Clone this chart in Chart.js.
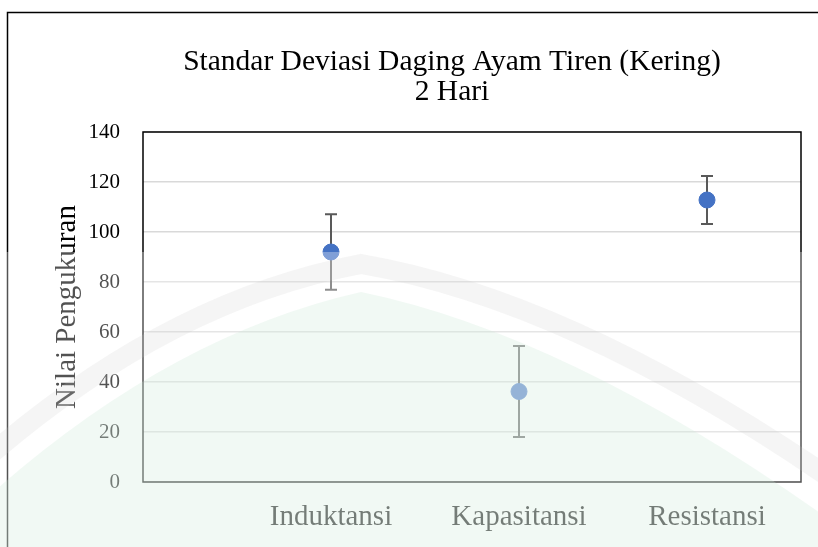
<!DOCTYPE html>
<html lang="en">
<head>
    <meta charset="UTF-8">
    <title>Standar Deviasi</title>
    <script src="https://cdn.jsdelivr.net/npm/chart.js@4.4.0/dist/chart.umd.min.js"></script>
    <style>
      html, body { margin: 0; padding: 0; background: #fff; }
      #wrap { width: 818px; height: 547px; }
    </style>
</head>
<body>
  <div id="wrap"><canvas id="sd"></canvas></div>
  <script>
    // data
    const categories = ["Induktansi", "Kapasitansi", "Resistansi"]
    const xPos = [1, 2, 3]
    const meanValues = [92, 36.2, 112.8]
    const stdDev = [15.1, 18.2, 9.6]
    const yTicks = [0, 20, 40, 60, 80, 100, 120, 140]
    const titleLines = ["Standar Deviasi Daging Ayam Tiren (Kering)", "2 Hari"]
    const serif = "'Liberation Serif', 'Times New Roman', serif"

    const points = xPos.map((x, i) => ({ x: x, y: meanValues[i] }))

    // error bars, drawn under the markers
    const errorBars = {
      id: "errorBars",
      beforeDatasetsDraw(chart) {
        const ctx = chart.ctx
        const xs = chart.scales.x, ys = chart.scales.y
        ctx.save()
        ctx.strokeStyle = "#595959"
        ctx.lineWidth = 2
        points.forEach((p, i) => {
          const px = xs.getPixelForValue(p.x)
          const top = ys.getPixelForValue(p.y + stdDev[i])
          const bot = ys.getPixelForValue(p.y - stdDev[i])
          ctx.beginPath()
          ctx.moveTo(px, top); ctx.lineTo(px, bot)
          ctx.moveTo(px - 6, top); ctx.lineTo(px + 6, top)
          ctx.moveTo(px - 6, bot); ctx.lineTo(px + 6, bot)
          ctx.stroke()
        })
        ctx.restore()
      }
    }

    // frame, title and the faded watermark in the lower part
    const decor = {
      id: "decor",
      afterDraw(chart) {
        const ctx = chart.ctx
        const a = chart.chartArea
        ctx.save()
        ctx.strokeStyle = "#000"
        ctx.lineWidth = 1.5
        ctx.strokeRect(a.left, a.top, a.right - a.left, a.bottom - a.top)
        ctx.beginPath()
        ctx.moveTo(7.5, 560); ctx.lineTo(7.5, 12.5); ctx.lineTo(830, 12.5)
        ctx.stroke()

        ctx.fillStyle = "#000"
        ctx.textAlign = "center"
        ctx.textBaseline = "alphabetic"
        ctx.font = "29.5px " + serif
        ctx.fillText(titleLines[0], 452, 70)
        ctx.fillText(titleLines[1], 452, 100)

        // watermark
        ctx.fillStyle = "rgba(255,255,255,0.32)"
        ctx.fillRect(0, 252, 818, 300)
        ctx.beginPath()
        ctx.moveTo(-10, 455)
        ctx.quadraticCurveTo(170, 300, 361, 264)
        ctx.quadraticCurveTo(570, 300, 830, 478)
        ctx.strokeStyle = "rgba(200,200,200,0.18)"
        ctx.lineWidth = 20
        ctx.stroke()
        ctx.beginPath()
        ctx.moveTo(-10, 495)
        ctx.quadraticCurveTo(170, 335, 361, 292)
        ctx.quadraticCurveTo(570, 335, 830, 520)
        ctx.lineTo(830, 560); ctx.lineTo(-10, 560)
        ctx.closePath()
        ctx.fillStyle = "rgba(205,235,215,0.28)"
        ctx.fill()
        ctx.restore()
      }
    }

    new Chart("sd", {
      type: "scatter",
      data: {
        datasets: [{
          label: "Standar Deviasi",
          data: points,
          backgroundColor: "#4472C4",
          borderColor: "#4472C4",
          pointRadius: 8,
          pointHoverRadius: 8
        }]
      },
      options: {
        responsive: true,
        maintainAspectRatio: false,
        animation: false,
        events: [],
        layout: { padding: { left: 0, right: 17, top: 132, bottom: 0 } },
        plugins: {
          legend: { display: false },
          title: { display: false },
          tooltip: { enabled: false }
        },
        scales: {
          x: {
            type: "linear",
            min: 0,
            max: 3.5,
            afterBuildTicks(scale) { scale.ticks = xPos.map(v => ({ value: v })) },
            afterFit(scale) { scale.height = 65 },
            grid: { display: false, drawTicks: false },
            border: { display: false },
            ticks: {
              padding: 18,
              color: "#000",
              font: { family: serif, size: 29 },
              callback: (v) => categories[xPos.indexOf(v)]
            }
          },
          y: {
            min: 0,
            max: 140,
            afterBuildTicks(scale) { scale.ticks = yTicks.map(v => ({ value: v })) },
            afterFit(scale) { scale.width = 143 },
            grid: { color: "#d9d9d9", lineWidth: 1.5, drawTicks: false },
            border: { display: false },
            ticks: {
              padding: 23,
              color: "#000",
              font: { family: serif, size: 21 }
            },
            title: {
              display: true,
              text: "Nilai Pengukuran",
              color: "#000",
              padding: { top: 50, bottom: 0 },
              font: { family: serif, size: 29 }
            }
          }
        }
      },
      plugins: [errorBars, decor]
    })
  </script>
</body>
</html>
